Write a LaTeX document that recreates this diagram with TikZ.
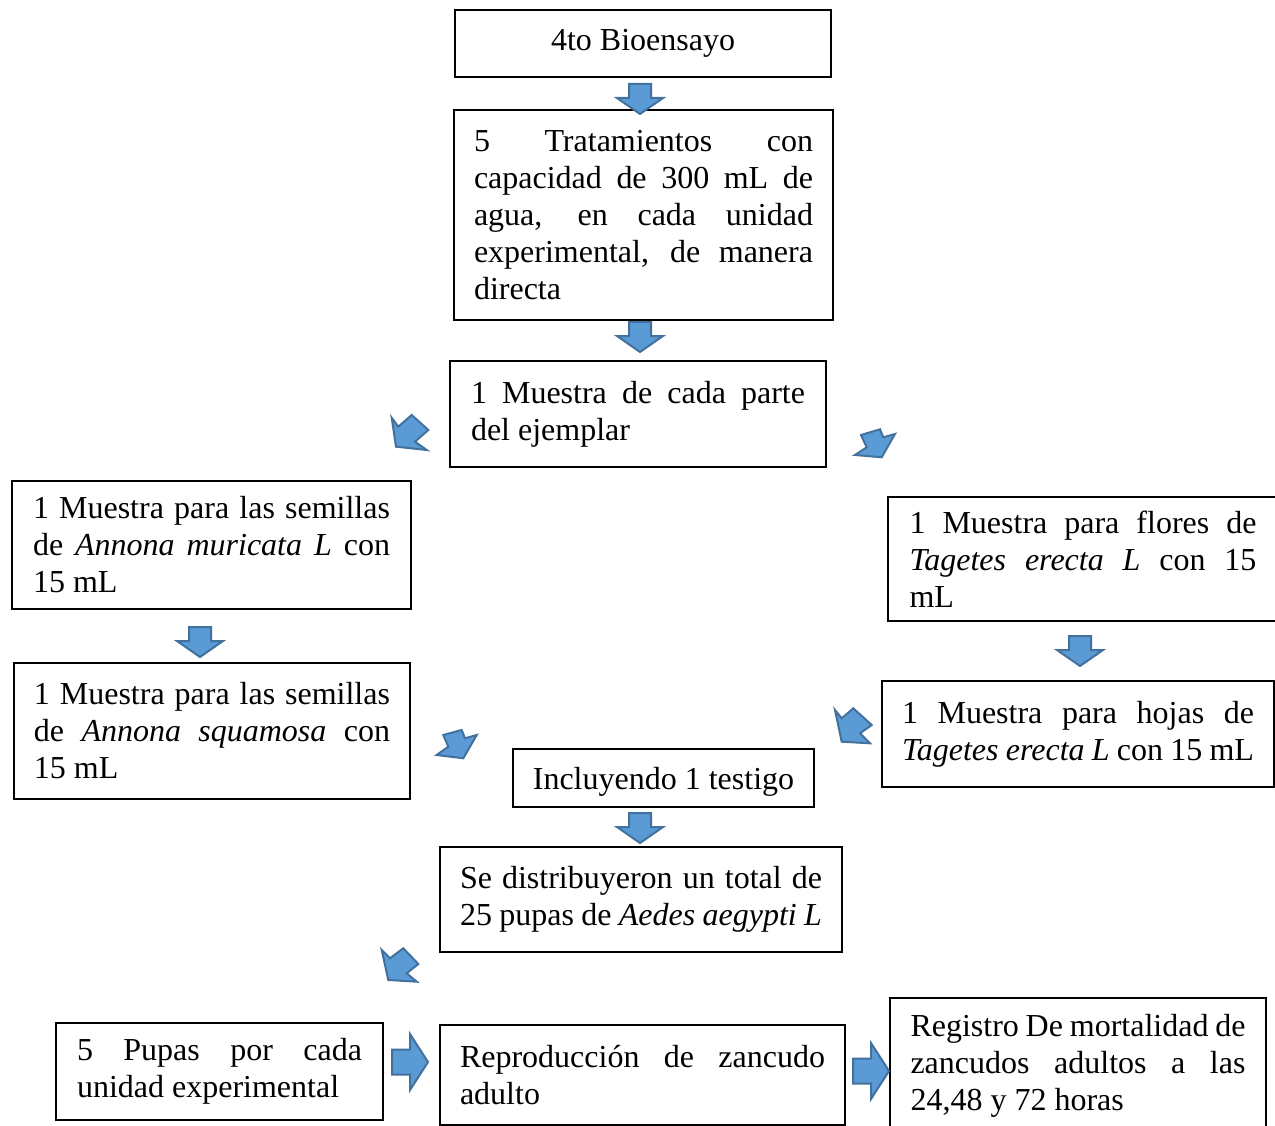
\documentclass[tikz,border=0pt]{standalone}
\usepackage{fontspec}
\setmainfont{Liberation Serif}
\definecolor{arrowfill}{HTML}{5B9BD5}
\definecolor{arrowline}{HTML}{41719C}
\newcommand\jl[2]{\makebox[#1pt][s]{#2}}
\begin{document}
\begin{tikzpicture}[x=1pt,y=-1pt,
  box/.style={draw=black, line width=1.3pt, inner sep=0pt, rectangle,
    font=\fontsize{32}{37}\selectfont, align=left},
  blk/.style={fill=arrowfill, draw=arrowline, line width=2pt, line join=miter},
  downarrow/.pic={\draw[blk] (-11,0)--(11,0)--(11,14)--(23,14)--(0,30)--(-23,14)--(-11,14)--cycle;},
  rightarrow/.pic={\draw[blk] (0,-12.5)--(18,-12.5)--(18,-28)--(36,0)--(18,28)--(18,12.5)--(0,12.5)--cycle;}
]
\clip (0,0) rectangle (1275,1126);
\fill[white] (0,0) rectangle (1275,1126);

% boxes
\node[box, align=center, minimum width=376pt, minimum height=67pt] (b1) at (643,43.5) {4to Bioensayo};
\node[box, minimum width=379pt, minimum height=210pt] (b2) at (643.5,215)
 {\jl{339}{5 Tratamientos con}\\\jl{339}{capacidad de 300 mL de}\\\jl{339}{agua, en cada unidad}\\\jl{339}{experimental, de manera}\\directa};
\node[box, minimum width=376pt, minimum height=106pt] (b3) at (638,414)
 {\jl{334}{1 Muestra de cada parte}\\del ejemplar};
\node[box, minimum width=399pt, minimum height=128pt] (b4) at (211.5,545)
 {\jl{357}{1 Muestra para las semillas}\\\jl{357}{de \textit{Annona muricata L} con}\\15 mL};
\node[box, minimum width=390pt, minimum height=124pt] (b5) at (1083,559)
 {\jl{347}{1 Muestra para flores de}\\\jl{347}{\textit{Tagetes erecta L} con 15}\\mL};
\node[box, minimum width=396pt, minimum height=136pt] (b6) at (212,731)
 {\jl{356}{1 Muestra para las semillas}\\\jl{356}{de \textit{Annona squamosa} con}\\15 mL};
\node[box, minimum width=392pt, minimum height=106pt] (b7) at (1078,734)
 {\jl{352}{1 Muestra para hojas de}\\\jl{352}{\textit{Tagetes erecta L} con 15 mL}};
\node[box, align=center, text depth=0pt, minimum width=301pt, minimum height=58pt] (b8) at (663.5,778) {Incluyendo 1 testigo};
\node[box, minimum width=402pt, minimum height=105pt] (b9) at (641,899.5)
 {\jl{362}{Se distribuyeron un total de}\\\jl{362}{25 pupas de \textit{Aedes aegypti L}}};
\node[box, minimum width=327pt, minimum height=97pt] (b10) at (219.5,1071.5)
 {\jl{285}{5 Pupas por cada}\\unidad experimental};
\node[box, minimum width=405pt, minimum height=100pt] (b11) at (642.5,1075)
 {\jl{365}{Reproducción de zancudo}\\adulto};
\node[box, minimum width=376pt, minimum height=136pt] (b12) at (1078,1066)
 {\jl{335}{Registro De mortalidad de}\\\jl{335}{zancudos adultos a las}\\24,48 y 72 horas};

% straight block arrows
\pic at (640,84) {downarrow};
\pic at (640,322) {downarrow};
\pic at (200,627) {downarrow};
\pic at (1080,636) {downarrow};
\pic at (640,813) {downarrow};
\pic at (392,1062) {rightarrow};
\pic at (853,1071) {rightarrow};

% skewed block arrows
\draw[blk] (391.7,417.7)--(398.3,426.7)--(411.7,415)--(428.3,430)--(415,441.7)--(426.7,450)--(396,446.7)--cycle;
\draw[blk] (861,435)--(880,429.3)--(883.3,437.3)--(895,434)--(881.7,457.3)--(855,455)--(866.7,447.3)--cycle;
\draw[blk] (835,710)--(841.7,718.3)--(853.3,708.3)--(871.7,725)--(860,733.3)--(870,743.3)--(841.7,741.7)--cycle;
\draw[blk] (443.3,735)--(461.7,730)--(465,738.3)--(476.7,735)--(463.3,758.3)--(436.7,755)--(448.3,746.7)--cycle;
\draw[blk] (381.7,950)--(390,958.3)--(403.3,948.3)--(418.3,964)--(406.7,973.3)--(416.7,981.7)--(388.3,980)--cycle;
\end{tikzpicture}
\end{document}
